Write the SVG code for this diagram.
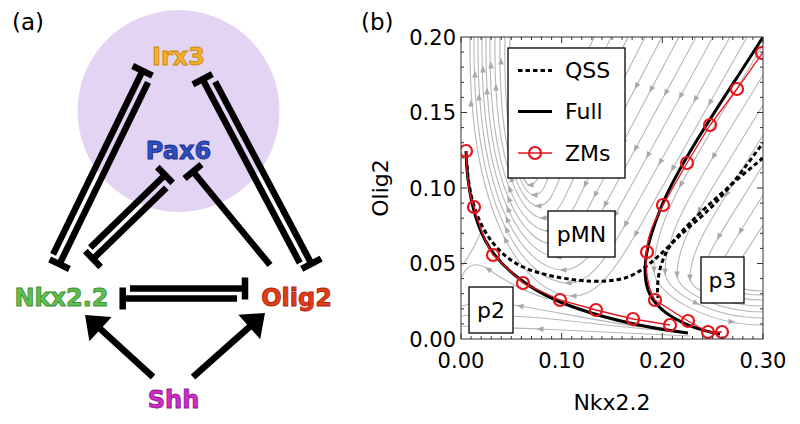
<svg xmlns="http://www.w3.org/2000/svg" width="800" height="424" viewBox="0 0 800 424">
<defs>
<style>
text{font-family:"DejaVu Sans","Liberation Sans",sans-serif}
.nl{font-weight:bold;font-size:24px;text-anchor:middle;stroke-width:0.9}
.e{fill:none;stroke:#000;stroke-width:6.5}
.inh{marker-end:url(#tb)}
.act{marker-end:url(#ah)}
.sl{fill:none;stroke:#b7b7b7;stroke-width:1.1}
.sm{marker-mid:url(#sa)}
.ar{fill:none;stroke:none;marker-end:url(#sa)}
.full{fill:none;stroke:#000;stroke-width:3}
.qss{fill:none;stroke:#000;stroke-width:3;stroke-dasharray:4.5 3}
.zl{fill:none;stroke:#e8141c;stroke-width:1.3}
.zm{fill:none;stroke:#e8141c;stroke-width:2.2}
.box{fill:#fff;stroke:#000;stroke-width:1.3}
.tk{fill:none;stroke:#333;stroke-width:1}
.tl{font-size:21px}
.lab{font-size:22px;text-anchor:middle}
.lg{font-size:22px}
.rl{font-size:22px;text-anchor:middle}
.pl{font-size:23px}
</style>
<marker id="tb" markerUnits="userSpaceOnUse" orient="auto" overflow="visible" markerWidth="10" markerHeight="24"><path d="M0,-11 V11" stroke="#000" stroke-width="6.5" fill="none"/></marker>
<marker id="ah" markerUnits="userSpaceOnUse" orient="auto" overflow="visible" markerWidth="30" markerHeight="36"><path d="M10,0 L-11,-16.5 L-11,16.5 z" fill="#000" stroke="none"/></marker>
<marker id="sa" markerUnits="userSpaceOnUse" orient="auto" overflow="visible" markerWidth="8" markerHeight="8"><path d="M3.5,0 L-3.5,-2.8 L-3.5,2.8 z" fill="#a9a9a9" stroke="none"/></marker>
<clipPath id="pc"><rect x="461" y="37" width="302" height="302"/></clipPath>
</defs>
<rect x="0" y="0" width="800" height="424" fill="#fff"/>

<!-- Panel (a) -->
<text x="12" y="30" class="pl">(a)</text>
<circle id="bg-circle" cx="178.5" cy="111" r="101" fill="#e4d4f4"/>
<g id="edges">
  <path class="e inh" d="M53.1,254.4 L142.5,70.8"/>
  <path class="e inh" d="M148,82.4 L59.5,264.2"/>
  <path class="e inh" d="M299.8,263 L202.6,79.3"/>
  <path class="e inh" d="M215.2,81.7 L311.4,263.7"/>
  <path class="e inh" d="M90.3,247.6 L165,175"/>
  <path class="e inh" d="M166.3,187.8 L93,259"/>
  <path class="e inh" d="M270,265 L193,171.5"/>
  <path class="e inh" d="M130,288.5 L245,288.5"/>
  <path class="e inh" d="M237,298.5 L122.7,298.5"/>
  <path class="e act" d="M153,377 L92.4,321.7"/>
  <path class="e act" d="M193,377 L257.5,319.7"/>
</g>
<g id="n-irx3"><text x="178.5" y="65" class="nl" fill="#f4b12b" stroke="#c98a12">Irx3</text></g>
<g id="n-pax6"><text x="178.5" y="159" class="nl" fill="#2c4fc2" stroke="#1b3187">Pax6</text></g>
<g id="n-nkx"><text x="61.5" y="306" class="nl" fill="#5fbf4f" stroke="#3f8f33">Nkx2.2</text></g>
<g id="n-olig2"><text x="296.5" y="306" class="nl" fill="#e33c18" stroke="#a82a0e">Olig2</text></g>
<g id="n-shh"><text x="173.5" y="408" class="nl" fill="#d12bc9" stroke="#8f1d8a">Shh</text></g>

<!-- Panel (b) -->
<text x="361" y="30" class="pl">(b)</text>
<g id="plot" clip-path="url(#pc)">
  <g id="streamlines">
    <path class="sl sm" d="M747,37 L709.8,102.8 L672.6,168.7 L635.4,234.5 C611,276.6 594.8,296 573,296 C552.4,296 526.2,279.8 505.3,239.4 C484.5,198.9 469,134.2 470,37"/>
    <path class="sl sm" d="M730,37 L695.1,99.5 L660.2,162.1 L625.3,224.6 C602.8,264.6 588.3,283 568,283 C549.2,283 525.2,267.6 506.2,229.2 C487.1,190.8 473,129.3 474,37"/>
    <path class="sl sm" d="M713,37 L680.4,96.2 L647.8,155.5 L615.2,214.7 C594.7,252.5 581.8,270 563,270 C546,270 524.3,255.5 507,219.1 C489.8,182.7 477,124.4 478,37"/>
    <path class="sl sm" d="M696,37 L665.7,92.9 L635.4,148.8 L605.1,204.8 C586.6,240.5 575.3,257 558,257 C542.8,257 523.3,243.3 507.9,208.9 C492.4,174.5 481,119.5 482,37"/>
    <path class="sl sm" d="M679,37 L651,89.6 L623.1,142.2 L595.1,194.8 C578.4,228.5 568.8,244 553,244 C539.6,244 522.4,231.1 508.7,198.7 C495.1,166.4 485,114.7 486,37"/>
    <path class="sl sm" d="M662,37 L636.3,86.3 L610.7,135.6 L585,184.9 C570.3,216.5 562.3,231 548,231 C536.4,231 521.4,218.9 509.6,188.6 C497.7,158.3 489,109.8 490,37"/>
    <path class="sl sm" d="M645,37 L621.7,83 L598.3,129 L575,175 C562.2,204.4 555.8,218 543,218 C533.4,218 520.9,206.7 511.1,178.4 C501.2,150.2 494,104.9 495,37"/>
    <path class="sl sm" d="M628,37 L606.9,80 L585.8,122.9 L564.7,165.9 C553.9,193.3 549.3,206 538,206 C530.4,206 520.4,195.5 512.6,169.1 C504.7,142.7 499,100.4 500,37"/>
    <path class="sl sm" d="M611,37 L592.3,77.2 L573.5,117.3 L554.8,157.5 C546.3,183.2 543.7,195 534,195 C528.2,195 520.5,185.1 514.4,160.4 C508.4,135.8 504,96.3 505,37"/>
    <path class="sl sm" d="M594,37 L577.5,74.6 L561.1,112.2 L544.6,149.9 C538.4,173.9 538,185 530,185 C526,185 520.5,175.8 516.3,152.6 C512,129.5 509,92.5 510,37"/>
    <path class="sl sm" d="M763,45 C690.2,165.4 654,220 654,270 C654,295 708.5,325 763,325"/>
    <path class="sl sm" d="M763,75 C699.5,180 665,228.7 665,272 C665,292.7 714,318 763,318"/>
    <path class="sl sm" d="M763,105 C708.2,195.6 677,237.6 677,275 C677,291.65 720,312 763,312"/>
    <path class="sl sm" d="M763,135 C716.9,211.3 690,246.5 690,278 C690,290.6 726.5,306 763,306"/>
    <path class="sl sm" d="M763,165 C725.9,226.3 703,254.7 703,280 C703,289 733,300 763,300"/>
    <path class="sl sm" d="M763,195 C735,241.4 717,262.9 717,282 C717,287.85 740,295 763,295"/>
    <path class="sl sm" d="M763,225 C744.3,256 731,270.2 731,283 C731,286.6 747,291 763,291"/>
    <path class="sl sm" d="M690,336 C640,334 570,330 540,329 C510,328 480,327 462,326"/>
    <path class="sl" d="M670,331 C625,328 575,321 540,318 C505,315 478,314 462,316"/>
    <path class="sl sm" d="M640,327 C600,321 555,312 520,306 C495,302 475,302 462,306"/>
    <path class="sl sm" d="M548,299 C522,291 502,279 488,269 C476,261 466,265 462,277"/>
    <path class="sl" d="M481,232 C474,248 468,258 462,266"/>
    <path class="ar" d="M681.2,183.9 l-0.46,0.89"/>
    <path class="ar" d="M713.9,155.6 l-0.51,0.86"/>
    <path class="ar" d="M699.5,210 l-0.48,0.87"/>
    <path class="ar" d="M726.8,193.6 l-0.52,0.85"/>
    <path class="ar" d="M719.1,236 l-0.5,0.86"/>
    <path class="ar" d="M740.7,230.7 l-0.52,0.85"/>
    <path class="ar" d="M731,321.7 l1,0.05"/>
    <path class="ar" d="M695.6,302.8 l0.9,0.44"/>
    <path class="ar" d="M471,104 l0,-1"/>
    <path class="ar" d="M475,75 l0,-1"/>
    <path class="ar" d="M479,98 l0,-1"/>
    <path class="ar" d="M483,70 l0,-1"/>
    <path class="ar" d="M487,92 l0,-1"/>
    <path class="ar" d="M491,66 l0,-1"/>
    <path class="ar" d="M496,88 l0,-1"/>
    <path class="ar" d="M501,62 l0,-1"/>
  </g>
  <g id="qss">
    <path class="qss" d="M467,165 C470,215 490,255 530,270 C560,280 600,285 625,278 C648,271 668,245 695,222 C720,202 743,170 763,143"/>
    <path class="qss" d="M763,158 C730,185 690,220 672,243 C660,260 656,280 658,298"/>
  </g>
  <g id="full">
    <path class="full" d="M466,151 C467,185 472,215 485,240 C498,265 525,287 560,302 C595,316 640,327 688,333"/>
    <path class="full" d="M763,37 C730,90 680,160 660,210 C647,243 641,268 648,290 C656,312 685,328 720,334"/>
  </g>
  <g id="zms">
    <path class="zl" d="M466,151 C467,180 469,197 474,207 C479,225 484,241 493,255 L523,283 L560,300 L596,310 L633,319 L670,325"/>
    <path class="zl" d="M763,52 L737,89 L710,125 L687,163 L663,205 C652,225 646,240 646,258 C646,280 650,292 655,300 L688,321 L708,332 L722,332"/>
    <g class="zm">
      <circle cx="466" cy="151" r="6"/><circle cx="474" cy="207" r="6"/><circle cx="493" cy="255" r="6"/><circle cx="523" cy="283" r="6"/><circle cx="560" cy="300" r="6"/><circle cx="596" cy="310" r="6"/><circle cx="633" cy="319" r="6"/><circle cx="670" cy="325" r="6"/>
      <circle cx="762" cy="53" r="6"/><circle cx="737" cy="89" r="6"/><circle cx="710" cy="125" r="6"/><circle cx="687" cy="163" r="6"/><circle cx="663" cy="205" r="6"/><circle cx="647" cy="252" r="6"/><circle cx="655" cy="300" r="6"/><circle cx="688" cy="321" r="6"/><circle cx="708" cy="332" r="6"/><circle cx="722" cy="332" r="6"/>
    </g>
  </g>
</g>
<g id="axes">
  <rect x="461" y="37" width="302" height="302" fill="none" stroke="#333" stroke-width="1"/>
  <path class="tk" d="M461,339v-6M561.67,339v-6M662.33,339v-6M763,339v-6M461,37v6M561.67,37v6M662.33,37v6M763,37v6
  M461,263.5h6M461,188h6M461,112.5h6M763,263.5h-6M763,188h-6M763,112.5h-6"/>
  <path class="tk" d="M471.07,339v-3M481.13,339v-3M491.2,339v-3M501.27,339v-3M511.33,339v-3M521.4,339v-3M531.47,339v-3M541.53,339v-3M551.6,339v-3M571.73,339v-3M581.8,339v-3M591.87,339v-3M601.93,339v-3M612,339v-3M622.07,339v-3M632.13,339v-3M642.2,339v-3M652.27,339v-3M672.4,339v-3M682.47,339v-3M692.53,339v-3M702.6,339v-3M712.67,339v-3M722.73,339v-3M732.8,339v-3M742.87,339v-3M752.93,339v-3
  M471.07,37v3M481.13,37v3M491.2,37v3M501.27,37v3M511.33,37v3M521.4,37v3M531.47,37v3M541.53,37v3M551.6,37v3M571.73,37v3M581.8,37v3M591.87,37v3M601.93,37v3M612,37v3M622.07,37v3M632.13,37v3M642.2,37v3M652.27,37v3M672.4,37v3M682.47,37v3M692.53,37v3M702.6,37v3M712.67,37v3M722.73,37v3M732.8,37v3M742.87,37v3M752.93,37v3
  M461,323.9h3M461,308.8h3M461,293.7h3M461,278.6h3M461,248.4h3M461,233.3h3M461,218.2h3M461,203.1h3M461,172.9h3M461,157.8h3M461,142.7h3M461,127.6h3M461,97.4h3M461,82.3h3M461,67.2h3M461,52.1h3
  M763,323.9h-3M763,308.8h-3M763,293.7h-3M763,278.6h-3M763,248.4h-3M763,233.3h-3M763,218.2h-3M763,203.1h-3M763,172.9h-3M763,157.8h-3M763,142.7h-3M763,127.6h-3M763,97.4h-3M763,82.3h-3M763,67.2h-3M763,52.1h-3"/>
  <g class="tl" text-anchor="middle">
    <text x="461" y="368">0.00</text><text x="561.7" y="368">0.10</text><text x="662.3" y="368">0.20</text><text x="763" y="368">0.30</text>
  </g>
  <g class="tl" text-anchor="end">
    <text x="456" y="346.5">0.00</text><text x="456" y="271">0.05</text><text x="456" y="195.5">0.10</text><text x="456" y="120">0.15</text><text x="456" y="44.5">0.20</text>
  </g>
  <text x="612" y="410" class="lab">Nkx2.2</text>
  <text transform="translate(388,188) rotate(-90)" class="lab">Olig2</text>
</g>
<g id="legend">
  <rect x="508" y="48" width="117" height="130" class="box"/>
  <path class="qss" d="M518,70.5 H552"/>
  <text x="565" y="78" class="lg">QSS</text>
  <path class="full" d="M518,111.5 H552"/>
  <text x="565" y="119" class="lg">Full</text>
  <path class="zl" d="M518,153 H552"/>
  <circle cx="535" cy="153" r="6" class="zm"/>
  <text x="565" y="160.5" class="lg">ZMs</text>
</g>
<g id="region-pMN"><rect x="548" y="211" width="67" height="46" class="box"/><text x="581.5" y="242" class="rl">pMN</text></g>
<g id="region-p2"><rect x="469" y="287" width="44" height="46" class="box"/><text x="491" y="318" class="rl">p2</text></g>
<g id="region-p3"><rect x="701" y="257" width="43" height="46" class="box"/><text x="722.5" y="288" class="rl">p3</text></g>
</svg>
